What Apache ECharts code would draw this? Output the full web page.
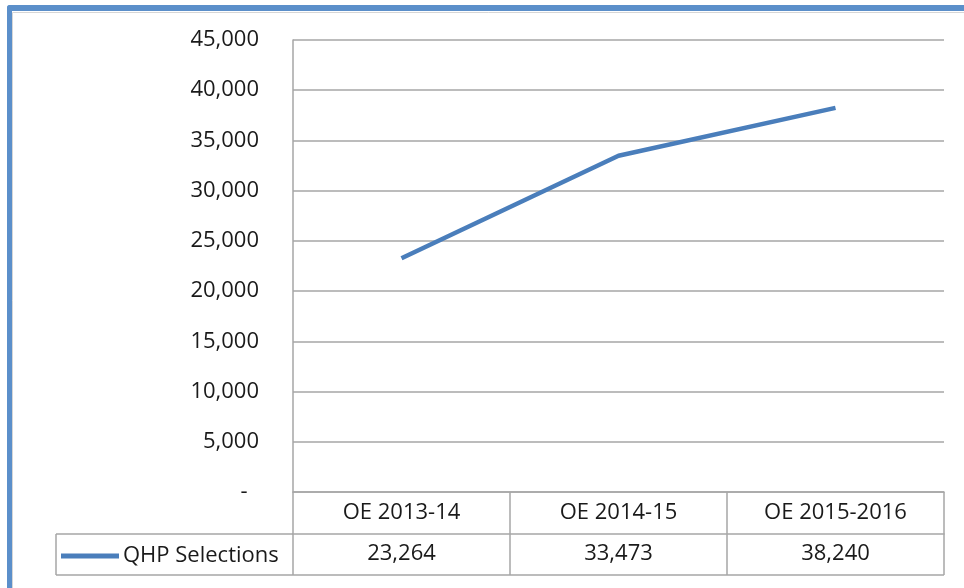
<!DOCTYPE html>
<html>
<head>
<meta charset="utf-8">
<script src="https://cdn.jsdelivr.net/npm/echarts@6/dist/echarts.min.js"></script>
<style>
html,body{margin:0;padding:0;background:#fff;}
#c{width:964px;height:588px;}
</style>
</head>
<body>
<div id="c"></div>
<script>
var categories = ['OE 2013-14', 'OE 2014-15', 'OE 2015-2016'];
var seriesName = 'QHP Selections';
var qhpValues = [23264, 33473, 38240];
var yMin = 0, yMax = 45000, yStep = 5000;

function fmt(v){ return v === 0 ? '-  ' : v.toLocaleString('en-US'); }

var FONT = '"Open Sans", sans-serif';
var GRAY = '#a6a6a6';
var TXT = '#1a1a1a';

var chart = echarts.init(document.getElementById('c'), null, {renderer:'canvas'});
chart.setOption({
  animation:false,
  backgroundColor:'#fff',
  grid:{left:293, right:20, top:40, bottom:96, containLabel:false},
  legend:{
    data:[seriesName], left:56, top:539, icon:'rect', itemWidth:58, itemHeight:5,
    textStyle:{fontFamily:FONT, fontSize:22, color:TXT, lineHeight:24, padding:[0,0,0,-1]},
    selectedMode:false
  },
  xAxis:[{
    type:'category', data:categories, boundaryGap:true, position:'bottom',
    axisLine:{show:true, lineStyle:{color:GRAY, width:1.5}},
    axisTick:{show:true, length:42, lineStyle:{color:GRAY, width:1.5}},
    axisLabel:{fontFamily:FONT, fontSize:22, color:TXT, lineHeight:24, margin:9}
  },{
    type:'category', data:categories, boundaryGap:true, position:'bottom', offset:42,
    axisLine:{show:true, lineStyle:{color:GRAY, width:1.5}},
    axisTick:{show:true, length:41, lineStyle:{color:GRAY, width:1.5}},
    axisLabel:{fontFamily:FONT, fontSize:22, color:TXT, lineHeight:24, margin:8,
      formatter:function(v, i){ return qhpValues[i].toLocaleString('en-US'); }}
  }],
  yAxis:{
    type:'value', min:yMin, max:yMax, interval:yStep,
    axisLine:{show:true, lineStyle:{color:GRAY, width:1.5}},
    axisTick:{show:false},
    splitLine:{show:true, lineStyle:{color:GRAY, width:1.5}},
    axisLabel:{fontFamily:FONT, fontSize:22, color:TXT, margin:34, formatter:fmt}
  },
  series:[{
    name:seriesName, type:'line', data:qhpValues, xAxisIndex:0,
    showSymbol:false, symbol:'none',
    lineStyle:{color:'#4a7ebb', width:4.5},
    itemStyle:{color:'#4a7ebb'}
  }],
  graphic:[
    {type:'rect', shape:{x:7, y:5, width:960, height:6, r:[3,0,0,0]}, style:{fill:'#5b8fca'}, silent:true},
    {type:'rect', shape:{x:7, y:5, width:5, height:590, r:[3,0,0,0]}, style:{fill:'#5b8fca'}, silent:true},
    {type:'line', shape:{x1:12.5, y1:12.5, x2:964, y2:12.5}, style:{stroke:'#d6d6d6', lineWidth:1}, silent:true},
    {type:'line', shape:{x1:12.5, y1:12.5, x2:12.5, y2:588}, style:{stroke:'#d6d6d6', lineWidth:1}, silent:true},
    {type:'line', shape:{x1:56, y1:534, x2:293, y2:534}, style:{stroke:GRAY, lineWidth:1.5}, silent:true},
    {type:'line', shape:{x1:56, y1:575, x2:944, y2:575}, style:{stroke:GRAY, lineWidth:1.5}, silent:true},
    {type:'line', shape:{x1:56, y1:534, x2:56, y2:575}, style:{stroke:GRAY, lineWidth:1.5}, silent:true}
  ]
});
</script>
</body>
</html>
